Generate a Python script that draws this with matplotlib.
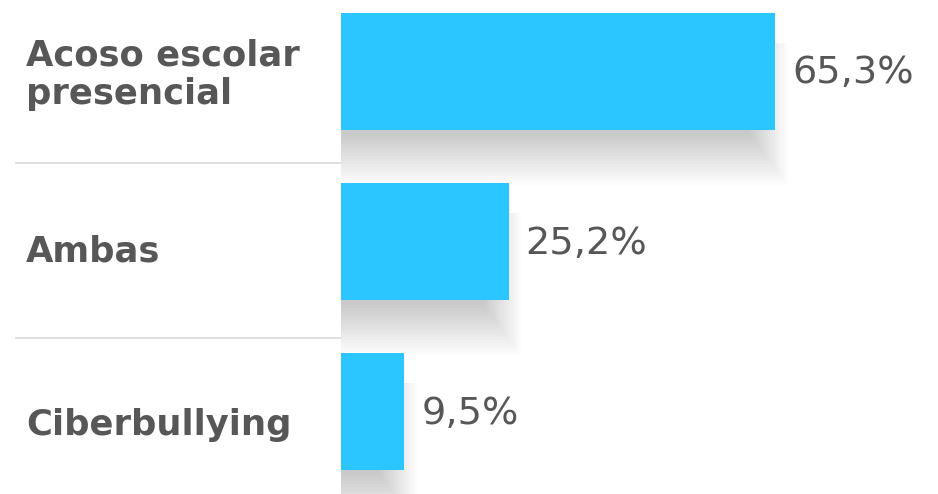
import matplotlib.pyplot as plt

categories = ["Acoso escolar\npresencial", "Ambas", "Ciberbullying"]
values = [65.3, 25.2, 9.5]
value_labels = ["65,3%", "25,2%", "9,5%"]

bar_color = "#2bc6ff"
text_color = "#575757"
line_color = "#d9d9d9"

W, H = 938, 494
px_per_pct = 6.65      # horizontal scale
px_per_cat = 170.0     # vertical spacing between bars
x0_px = 341            # left edge of bars
top_px = 71.5          # centre of first bar, from the top

fig = plt.figure(figsize=(W / 100, H / 100), dpi=100)
fig.patch.set_facecolor("white")

ylim = (2 + (H - top_px - 2 * px_per_cat) / px_per_cat, -top_px / px_per_cat)

# bars
ax = fig.add_axes([x0_px / W, 0, 1 - x0_px / W, 1])
ax.set_xlim(0, (W - x0_px) / px_per_pct)
ax.set_ylim(*ylim)
ax.axis("off")

ypos = list(range(len(values)))
bar_h = 117 / px_per_cat

# soft drop shadow: stacked translucent rectangles
n_layers = 18
for k in range(n_layers):
    m = -25 + 50 * k / (n_layers - 1)       # margin in px
    ax.barh([y + (30 + m / 2) / px_per_cat for y in ypos],
            [v + (0.75 * m - 6) / px_per_pct for v in values],
            height=bar_h + m / px_per_cat,
            color="black", alpha=0.0135, linewidth=0, zorder=1)

ax.barh(ypos, values, height=bar_h, color=bar_color, linewidth=0, zorder=3)

for y, v, lab in zip(ypos, values, value_labels):
    ax.text(v + 17 / px_per_pct, y + 2 / px_per_cat, lab, va="center", ha="left",
            fontsize=27.5, color=text_color, zorder=4)

# category labels + separators
lax = fig.add_axes([0, 0, x0_px / W, 1])
lax.set_xlim(0, x0_px)
lax.set_ylim(*ylim)
lax.axis("off")

label_dy = [3, 10, 14]
for y, cat, dy in zip(ypos, categories, label_dy):
    lax.text(26, y + dy / px_per_cat, cat, va="center", ha="left",
             fontsize=25.5, fontweight="bold", color=text_color, linespacing=1.18)

for ysep in [(163 - top_px) / px_per_cat, (338 - top_px) / px_per_cat]:
    lax.plot([16, x0_px], [ysep, ysep], color=line_color, lw=1.2)

fig.savefig("out.png", dpi=100, facecolor="white")
